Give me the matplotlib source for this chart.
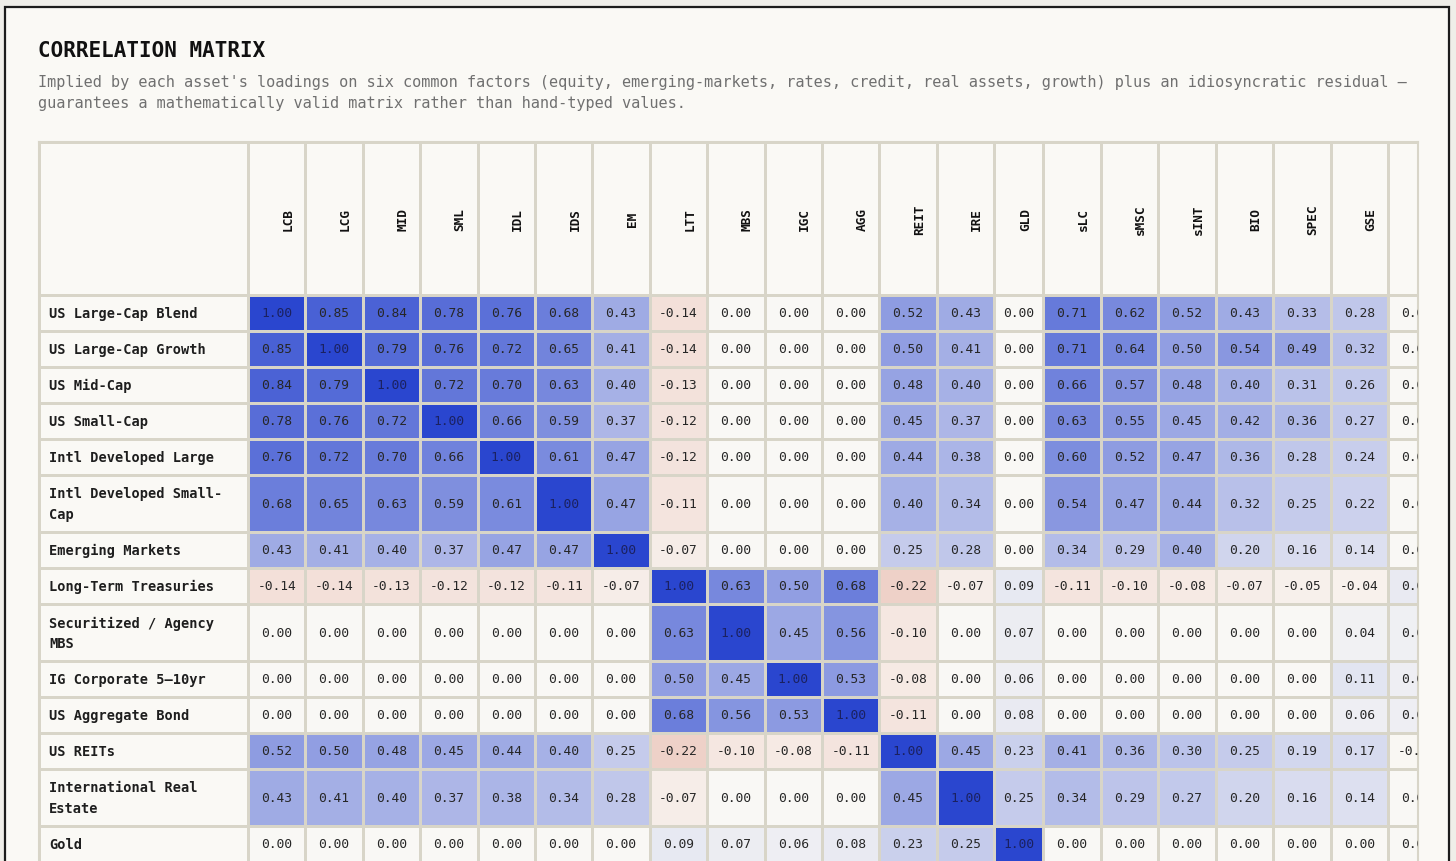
import numpy as np
import matplotlib
matplotlib.use("Agg")
import matplotlib.pyplot as plt
from matplotlib.colors import LinearSegmentedColormap
from matplotlib.patches import Rectangle

# --- data -------------------------------------------------------------
asset_names = [
    "US Large-Cap Blend", "US Large-Cap Growth", "US Mid-Cap", "US Small-Cap",
    "Intl Developed Large", "Intl Developed Small-\nCap", "Emerging Markets",
    "Long-Term Treasuries", "Securitized / Agency\nMBS", "IG Corporate 5\u201310yr",
    "US Aggregate Bond", "US REITs", "International Real\nEstate", "Gold",
]
col_codes = ["LCB", "LCG", "MID", "SML", "IDL", "IDS", "EM", "LTT", "MBS", "IGC",
             "AGG", "REIT", "IRE", "GLD", "sLC", "sMSC", "sINT", "BIO", "SPEC", "GSE",
             "CSH"]

corr_values = [
    [1.00, 0.85, 0.84, 0.78, 0.76, 0.68, 0.43, -0.14, 0.00, 0.00, 0.00, 0.52, 0.43, 0.00, 0.71, 0.62, 0.52, 0.43, 0.33, 0.28, 0.00],
    [0.85, 1.00, 0.79, 0.76, 0.72, 0.65, 0.41, -0.14, 0.00, 0.00, 0.00, 0.50, 0.41, 0.00, 0.71, 0.64, 0.50, 0.54, 0.49, 0.32, 0.00],
    [0.84, 0.79, 1.00, 0.72, 0.70, 0.63, 0.40, -0.13, 0.00, 0.00, 0.00, 0.48, 0.40, 0.00, 0.66, 0.57, 0.48, 0.40, 0.31, 0.26, 0.00],
    [0.78, 0.76, 0.72, 1.00, 0.66, 0.59, 0.37, -0.12, 0.00, 0.00, 0.00, 0.45, 0.37, 0.00, 0.63, 0.55, 0.45, 0.42, 0.36, 0.27, 0.00],
    [0.76, 0.72, 0.70, 0.66, 1.00, 0.61, 0.47, -0.12, 0.00, 0.00, 0.00, 0.44, 0.38, 0.00, 0.60, 0.52, 0.47, 0.36, 0.28, 0.24, 0.00],
    [0.68, 0.65, 0.63, 0.59, 0.61, 1.00, 0.47, -0.11, 0.00, 0.00, 0.00, 0.40, 0.34, 0.00, 0.54, 0.47, 0.44, 0.32, 0.25, 0.22, 0.00],
    [0.43, 0.41, 0.40, 0.37, 0.47, 0.47, 1.00, -0.07, 0.00, 0.00, 0.00, 0.25, 0.28, 0.00, 0.34, 0.29, 0.40, 0.20, 0.16, 0.14, 0.00],
    [-0.14, -0.14, -0.13, -0.12, -0.12, -0.11, -0.07, 1.00, 0.63, 0.50, 0.68, -0.22, -0.07, 0.09, -0.11, -0.10, -0.08, -0.07, -0.05, -0.04, 0.08],
    [0.00, 0.00, 0.00, 0.00, 0.00, 0.00, 0.00, 0.63, 1.00, 0.45, 0.56, -0.10, 0.00, 0.07, 0.00, 0.00, 0.00, 0.00, 0.00, 0.04, 0.05],
    [0.00, 0.00, 0.00, 0.00, 0.00, 0.00, 0.00, 0.50, 0.45, 1.00, 0.53, -0.08, 0.00, 0.06, 0.00, 0.00, 0.00, 0.00, 0.00, 0.11, 0.06],
    [0.00, 0.00, 0.00, 0.00, 0.00, 0.00, 0.00, 0.68, 0.56, 0.53, 1.00, -0.11, 0.00, 0.08, 0.00, 0.00, 0.00, 0.00, 0.00, 0.06, 0.06],
    [0.52, 0.50, 0.48, 0.45, 0.44, 0.40, 0.25, -0.22, -0.10, -0.08, -0.11, 1.00, 0.45, 0.23, 0.41, 0.36, 0.30, 0.25, 0.19, 0.17, -0.01],
    [0.43, 0.41, 0.40, 0.37, 0.38, 0.34, 0.28, -0.07, 0.00, 0.00, 0.00, 0.45, 1.00, 0.25, 0.34, 0.29, 0.27, 0.20, 0.16, 0.14, 0.00],
    [0.00, 0.00, 0.00, 0.00, 0.00, 0.00, 0.00, 0.09, 0.07, 0.06, 0.08, 0.23, 0.25, 1.00, 0.00, 0.00, 0.00, 0.00, 0.00, 0.00, 0.00],
]

title = "CORRELATION MATRIX"
subtitle = ("Implied by each asset's loadings on six common factors (equity, emerging-markets, "
            "rates, credit, real assets, growth) plus an idiosyncratic residual \u2014\n"
            "guarantees a mathematically valid matrix rather than hand-typed values.")

# --- layout (pixels) --------------------------------------------------
W, H = 1456, 862
PAGE = "#faf9f5"
OUTSIDE = "#efeee9"
GRID = "#d8d5c8"
MONO = "DejaVu Sans Mono"

tab_left, tab_right, tab_top = 39, 1418, 143
label_w, header_h = 209, 153
col_w = [57.4] * 13 + [49] + [57.5] * 7
row_h = [57 if "\n" in n else 36 for n in asset_names]

x_edges = np.concatenate([[tab_left, tab_left + label_w], tab_left + label_w + np.cumsum(col_w)])
y_edges = np.concatenate([[tab_top, tab_top + header_h], tab_top + header_h + np.cumsum(row_h)])

cmap = LinearSegmentedColormap.from_list("corr", ["#c4442c", PAGE, "#2a46cf"])
cmap.set_bad(PAGE)

fig = plt.figure(figsize=(W / 100, H / 100), dpi=100, facecolor=OUTSIDE)

# page / frame
bg = fig.add_axes([0, 0, 1, 1])
bg.set_xlim(0, W)
bg.set_ylim(H, 0)
bg.axis("off")
bg.add_patch(Rectangle((5, 8), 1444, H + 20, facecolor=PAGE, edgecolor="#1c1c1c", lw=1.6))
bg.text(38, 51, title, fontsize=15, fontweight="bold", family=MONO, color="#111111", va="center")
bg.text(38, 93, subtitle, fontsize=10.95, family=MONO, color="#707070", va="center", linespacing=1.55)

# table
tab = fig.add_axes([tab_left / W, 0, (tab_right - tab_left) / W, (H - tab_top) / H])
tab.set_xlim(tab_left, tab_right)
tab.set_ylim(H, tab_top)
tab.set_xticks([])
tab.set_yticks([])
for side in ["top", "left", "right"]:
    tab.spines[side].set_color(GRID)
    tab.spines[side].set_linewidth(1.5)
tab.spines["bottom"].set_visible(False)

vals = np.array(corr_values)
grid = np.full((len(asset_names) + 1, len(col_codes) + 1), np.nan)
grid[1:, 1:] = vals
tab.pcolormesh(x_edges, y_edges, np.ma.masked_invalid(grid), cmap=cmap, vmin=-1, vmax=1,
               edgecolors=GRID, linewidth=0.75)

# headers
hy = tab_top + header_h / 2
for j, code in enumerate(col_codes):
    tab.text(x_edges[j + 2] - 17.5, hy, code, rotation=90, ha="center", va="center",
             fontsize=9.2, fontweight="bold", family=MONO, color="#111111", clip_on=True)

# row labels + values
for i, name in enumerate(asset_names):
    yc = (y_edges[i + 1] + y_edges[i + 2]) / 2
    tab.text(tab_left + 10, yc, name, ha="left", va="center", fontsize=9.8, fontweight="bold",
             family=MONO, color="#1e1e1e", linespacing=1.55, clip_on=True)
    for j, v in enumerate(vals[i]):
        xc = (x_edges[j + 1] + x_edges[j + 2]) / 2
        tab.text(xc, yc, f"{v:.2f}", ha="center", va="center", fontsize=9.3, family=MONO,
                 color="#1b2160" if v >= 0.99 else "#262626", clip_on=True)

fig.savefig("out.png", dpi=100, facecolor=OUTSIDE)
